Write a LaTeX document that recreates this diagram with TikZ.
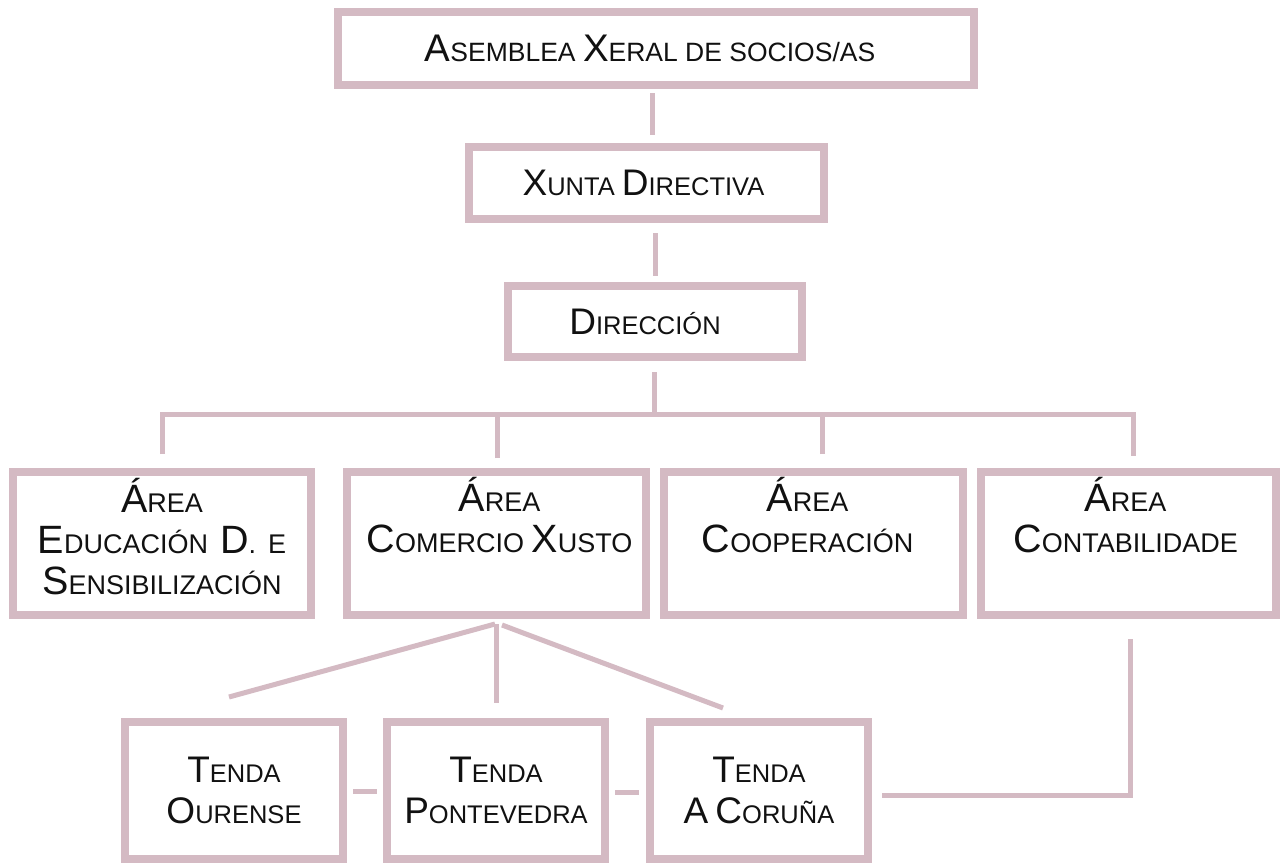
\documentclass[tikz,border=0pt]{standalone}
\usepackage{fontspec}
\setmainfont{Liberation Sans}
\usetikzlibrary{calc}
\definecolor{boxc}{RGB}{212,186,195}
\definecolor{txt}{RGB}{17,17,17}
\newcommand\SC[2]{{\fontsize{37}{41}\selectfont #1}#2}
\newcommand\SCa[2]{{\fontsize{39.5}{41}\selectfont #1}#2}
\newcommand\SCb[2]{{\fontsize{38.5}{41}\selectfont #1}#2}
\begin{document}
\begin{tikzpicture}[x=1pt,y=-1pt,
  box/.style={draw=boxc, line width=8pt, fill=white, inner sep=0pt},
  lbl/.style={align=center, inner sep=0pt, text=txt, font=\fontsize{25.5}{41}\selectfont},
  albl/.style={align=center, inner sep=0pt, text=txt, font=\fontsize{27}{41}\selectfont},
  ln/.style={draw=boxc, line width=5pt, line cap=butt, line join=miter}]
\useasboundingbox[fill=white] (0,0) rectangle (1282,865);
% top chain
\node[box, minimum width=636pt, minimum height=73pt] (A) at (656,48.5) {};
\node[lbl, font=\fontsize{26.5}{41}\selectfont] at ([xshift=-6pt]A.center) {\SCb{A}{SEMBLEA} \SCb{X}{ERAL DE SOCIOS/AS}};
\node[box, minimum width=355pt, minimum height=72pt] (X) at (646.5,183) {};
\node[lbl] at ([xshift=-3pt]X.center) {\SC{X}{UNTA} \SC{D}{IRECTIVA}};
\node[box, minimum width=294pt, minimum height=71pt] (D) at (655,321.5) {};
\node[lbl] at ([xshift=-10pt]D.center) {\SC{D}{IRECCIÓN}};
% areas
\node[box, minimum width=298pt, minimum height=143pt] (B1) at (162,543.5) {};
\node[albl] at ([yshift=7pt]B1.center)
  {\SCa{Á}{REA}\\ \SCa{E}{DUCACIÓN}\hspace{12pt}\SCa{D}{.}\hspace{12pt}E\\ \SCa{S}{ENSIBILIZACIÓN}};
\node[box, minimum width=299pt, minimum height=143pt] (B2) at (496.5,543.5) {};
\node[albl] at ([xshift=3pt,yshift=8pt]B2.center)
  {\SCa{Á}{REA}\\ \SCa{C}{OMERCIO} \SCa{X}{USTO}\\ \mbox{}};
\node[box, minimum width=299pt, minimum height=143pt] (B3) at (813.5,543.5) {};
\node[albl] at ([xshift=-6pt,yshift=8pt]B3.center)
  {\SCa{Á}{REA}\\ \SCa{C}{OOPERACIÓN}\\ \mbox{}};
\node[box, minimum width=295pt, minimum height=143pt] (B4) at (1128.5,543.5) {};
\node[albl] at ([xshift=-3pt,yshift=8pt]B4.center)
  {\SCa{Á}{REA}\\ \SCa{C}{ONTABILIDADE}\\ \mbox{}};
% tendas
\node[box, minimum width=218pt, minimum height=137pt] (T1) at (234,790.5) {};
\node[lbl] at (T1.center) {\SC{T}{ENDA}\\ \SC{O}{URENSE}};
\node[box, minimum width=218pt, minimum height=137pt] (T2) at (496,790.5) {};
\node[lbl] at (T2.center) {\SC{T}{ENDA}\\ \SC{P}{ONTEVEDRA}};
\node[box, minimum width=218pt, minimum height=137pt] (T3) at (759,790.5) {};
\node[lbl] at (T3.center) {\SC{T}{ENDA}\\ \SC{A}{} \SC{C}{ORUÑA}};
% connectors
\draw[ln] ([xshift=-4pt,yshift=-4pt]A.south) -- ([xshift=5.5pt,yshift=8pt]X.north);
\draw[ln] ([xshift=8.5pt,yshift=-10pt]X.south) -- ([xshift=0pt,yshift=6pt]D.north);
\coordinate (bar) at (654,418);
\draw[ln] ([xshift=-1pt,yshift=-11pt]D.south) -- ([yshift=2.5pt]bar);
\draw[ln] ([yshift=14pt]B1.north) -- ([yshift=54pt]B1.north) -- ([xshift=4.5pt,yshift=54pt]B4.north) -- ([xshift=4.5pt,yshift=12pt]B4.north);
\draw[ln] ([xshift=0.5pt,yshift=10pt]B2.north) -- ([xshift=0.5pt,yshift=54pt]B2.north);
\draw[ln] ([xshift=8.5pt,yshift=14pt]B3.north) -- ([xshift=8.5pt,yshift=54pt]B3.north);
% fan
\draw[ln] ([xshift=-1.5pt,yshift=-5pt]B2.south) -- ([xshift=-5pt,yshift=21pt]T1.north);
\draw[ln] ([xshift=-0.5pt,yshift=-5pt]B2.south) -- ([yshift=15pt]T2.north);
\draw[ln] ([xshift=5.5pt,yshift=-6pt]B2.south) -- ([xshift=-36pt,yshift=10pt]T3.north);
% tenda links
\draw[ln] ([xshift=6pt,yshift=-1pt]T1.east) -- ([xshift=-6pt,yshift=-1pt]T2.west);
\draw[ln] ([xshift=6pt,yshift=-1.5pt]T2.east) -- ([xshift=-7pt,yshift=-1.5pt]T3.west);
\draw[ln] ([xshift=10pt,yshift=-4.5pt]T3.east) -| ([xshift=1.5pt,yshift=-20pt]B4.south);
\end{tikzpicture}
\end{document}
